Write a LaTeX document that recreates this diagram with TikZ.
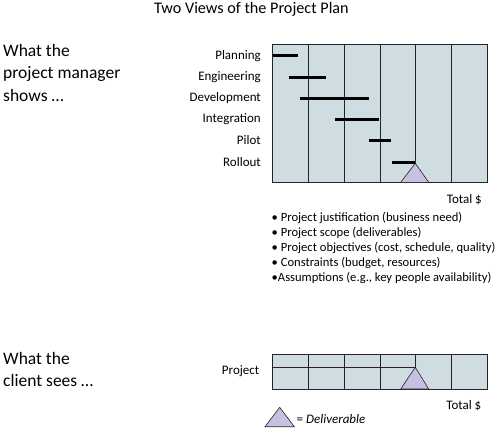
\documentclass[tikz,border=0pt]{standalone}
\usepackage{fontspec}
\setmainfont{Carlito}
\usetikzlibrary{positioning}
\definecolor{chartfill}{RGB}{207,220,226}
\definecolor{delivfill}{RGB}{200,192,224}
\definecolor{inkgray}{RGB}{35,35,40}

\begin{document}
\begin{tikzpicture}[
    x=1pt, y=-1pt,
    chart/.style={draw=inkgray, fill=chartfill, line width=0.9pt},
    grid/.style={draw=inkgray, line width=0.8pt},
    task/.style={draw=black, line width=3pt},
    phase/.style={anchor=east, font=\fontsize{13}{15}\selectfont, inner sep=0pt},
    side/.style={anchor=north west, align=left, inner sep=0pt, font=\fontsize{17.5}{22.5}\selectfont},
    deliv/.style={draw=inkgray, fill=delivfill, line width=0.6pt},
    total/.style={anchor=east, font=\fontsize{13}{15}\selectfont, inner sep=0pt}
]
\useasboundingbox (0,0) rectangle (500,428);

\node[font=\fontsize{16.2}{18}\selectfont] (title) at (251.5,9.5) {Two Views of the Project Plan};

% project manager view
\node[side] (pmtext) at (3,44) {What the\\project manager\\shows \dots};
\draw[chart] (272.7,44) rectangle (487.3,182.3);
\foreach \k in {1,...,5}
  \draw[grid] (272.7+\k*35.77,44) -- (272.7+\k*35.77,182.3);
\draw[deliv] (400.7,182.3) -- (415.3,163.3) -- (428.7,182.3) -- cycle;
\foreach \name/\yy/\xa/\xb in {Planning/56/272.7/298.3, Engineering/77.3/288.7/326,
    Development/98.3/300/369.3, Integration/119.3/335/379.3,
    Pilot/140.3/368.7/390.7, Rollout/162/392/415.3}{
  \node[phase] (lbl-\name) at (261,\yy) {\name};
  \draw[task] (\xa,\yy) -- (\xb,\yy);
}
\node[total] (pmtotal) at (482,199.5) {Total \$};

\node[anchor=north west, align=left, inner sep=0pt, font=\fontsize{12.6}{15}\selectfont] (plan) at (271.5,212.5) {%
  • Project justification (business need)\\
  • Project scope (deliverables)\\
  • Project objectives (cost, schedule, quality)\\
  • Constraints (budget, resources)\\
  •Assumptions (e.g., key people availability)};

% client view
\node[side] (cltext) at (3,352) {What the\\client sees \dots};
\draw[chart] (272.7,354.3) rectangle (487.3,389);
\draw[grid] (272.7,367.3) -- (415.3,367.3);
\foreach \k in {1,...,5}
  \draw[grid] (272.7+\k*35.77,354.3) -- (272.7+\k*35.77,389);
\draw[deliv] (400.7,389) -- (415.3,367.3) -- (428.7,389) -- cycle;
\node[phase] (project) at (259.5,371.5) {Project};
\node[total] (cltotal) at (481.5,406) {Total \$};

% legend
\draw[deliv] (265,426.7) -- (279.7,407.3) -- (294.3,426.7) -- cycle;
\node[anchor=west, inner sep=0pt, font=\fontsize{13}{15}\selectfont] (legend) at (296.5,419.5) {= \textit{Deliverable}};
\end{tikzpicture}
\end{document}
